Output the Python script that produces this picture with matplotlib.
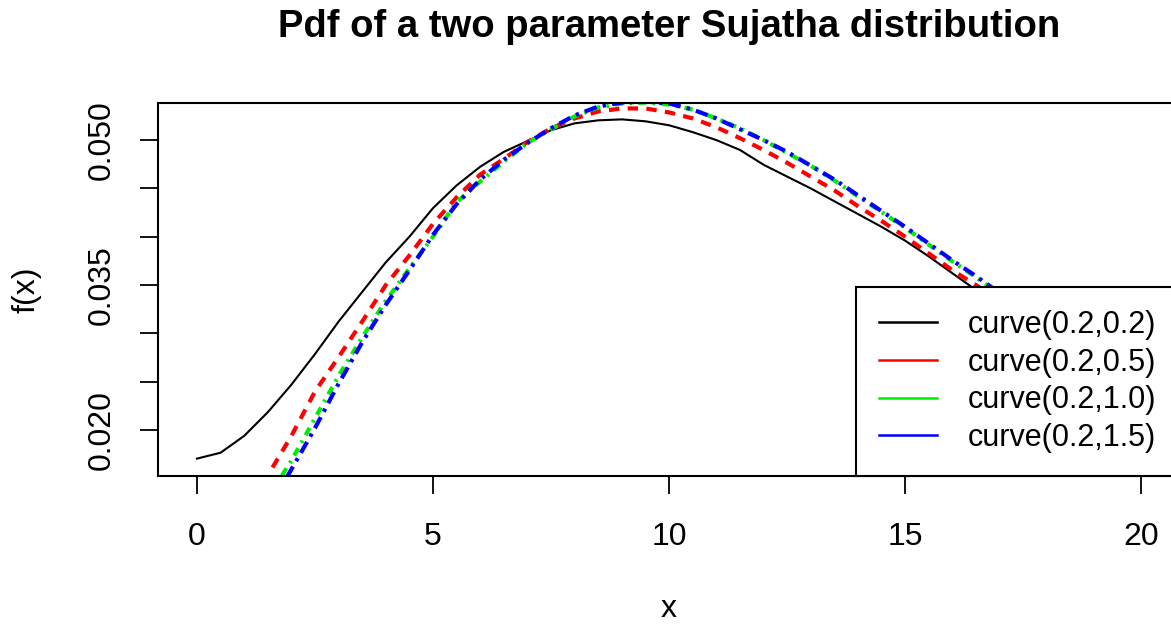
import numpy as np
import matplotlib.pyplot as plt
from matplotlib.lines import Line2D

plt.rcParams['font.family'] = ['Liberation Sans', 'DejaVu Sans']

# values
x_black = [0, 0.5, 1, 1.5, 2, 2.5, 3, 3.5, 4, 4.5, 5, 5.5, 6, 6.5, 7, 7.5, 8, 8.5,
           9, 9.5, 10, 10.5, 11, 11.5, 12, 12.5, 13, 13.5, 14, 14.5, 15, 15.5, 16, 16.5, 17]
y_black = [0.01704, 0.01765, 0.01939, 0.02184, 0.02469, 0.02786, 0.03122, 0.03429,
           0.03735, 0.04000, 0.04296, 0.04531, 0.04724, 0.04878, 0.04990, 0.05102,
           0.05173, 0.05204, 0.05214, 0.05194, 0.05153, 0.05082, 0.05000, 0.04898,
           0.04745, 0.04622, 0.04500, 0.04367, 0.04235, 0.04102, 0.03959, 0.03796,
           0.03622, 0.03449, 0.03280]

x_red = [1.6, 2, 2.5, 3, 3.5, 4, 4.5, 5, 5.5, 6, 6.5, 7, 7.5, 8, 8.5, 9, 9.5, 10,
         10.5, 11, 11.5, 12, 12.5, 13, 13.5, 14, 14.5, 15, 15.5, 16, 16.5, 17]
y_red = [0.01612, 0.01939, 0.02398, 0.02755, 0.03122, 0.03500, 0.03806, 0.04133,
         0.04408, 0.04643, 0.04806, 0.04980, 0.05122, 0.05224, 0.05296, 0.05327,
         0.05327, 0.05286, 0.05224, 0.05133, 0.05020, 0.04898, 0.04765, 0.04622,
         0.04480, 0.04316, 0.04163, 0.04000, 0.03827, 0.03653, 0.03500, 0.03340]

x_green = [1.8, 2, 2.5, 3, 3.5, 4, 4.5, 5, 5.5, 6, 6.5, 7, 7.5, 8, 8.5, 9, 9.5, 10,
           10.5, 11, 11.5, 12, 12.5, 13, 13.5, 14, 14.5, 15, 15.5, 16, 16.5, 17]
y_green = [0.01531, 0.01684, 0.02122, 0.02561, 0.02959, 0.03337, 0.03673, 0.04000,
           0.04357, 0.04571, 0.04776, 0.04969, 0.05112, 0.05245, 0.05337, 0.05378,
           0.05388, 0.05367, 0.05316, 0.05224, 0.05122, 0.05000, 0.04867, 0.04735,
           0.04582, 0.04418, 0.04255, 0.04092, 0.03918, 0.03745, 0.03582, 0.03408]

x_blue = [1.9, 2, 2.5, 3, 3.5, 4, 4.5, 5, 5.5, 6, 6.5, 7, 7.5, 8, 8.5, 9, 9.5, 10,
          10.5, 11, 11.5, 12, 12.5, 13, 13.5, 14, 14.5, 15, 15.5, 16, 16.5, 17]
y_blue = [0.01510, 0.01592, 0.02020, 0.02480, 0.02908, 0.03296, 0.03653, 0.04020,
          0.04337, 0.04592, 0.04796, 0.04969, 0.05122, 0.05255, 0.05347, 0.05388,
          0.05398, 0.05378, 0.05316, 0.05224, 0.05112, 0.05000, 0.04878, 0.04735,
          0.04592, 0.04429, 0.04265, 0.04102, 0.03929, 0.03755, 0.03592, 0.03418]

labels = ["curve(0.2,0.2)", "curve(0.2,0.5)", "curve(0.2,1.0)", "curve(0.2,1.5)"]
colors = ["black", "red", "#00ee00", "blue"]
xticks = [0, 5, 10, 15, 20]
yticks = [0.020, 0.025, 0.030, 0.035, 0.040, 0.045, 0.050]
ytick_labels = ["0.020", "", "", "0.035", "", "", "0.050"]

fig = plt.figure(figsize=(11.71, 6.26), dpi=100)
ax = fig.add_axes([0.1349, 0.2396, 0.8719, 0.5958])

ax.plot(x_black, y_black, color=colors[0], lw=1.5)
ax.plot(x_red, y_red, color=colors[1], lw=3, ls=(0, (2.5, 2)))
ax.plot(x_green, y_green, color=colors[2], lw=3, ls=(0, (2, 1.5, 0.6, 1.5)))
ax.plot(x_blue, y_blue, color=colors[3], lw=3, ls=(0, (3, 1.5, 0.8, 1.5)))

ax.set_xlim(-0.826, 20.8)
ax.set_ylim(0.01524, 0.05383)
ax.set_xticks(xticks)
ax.set_yticks(yticks)
ax.set_yticklabels(ytick_labels, rotation=90, va='center')
ax.tick_params(direction='out', length=13, width=1.3, labelsize=23, pad=20)
ax.tick_params(axis='y', pad=17)
for s in ax.spines.values():
    s.set_linewidth(1.5)

ax.set_xlabel("x", fontsize=23, labelpad=30)
ax.set_ylabel("f(x)", fontsize=23, labelpad=32)
fig.suptitle("Pdf of a two parameter Sujatha distribution", x=0.571, y=0.985,
             fontsize=27.5, fontweight='bold')

handles = [Line2D([0], [0], color=c, lw=1.8) for c in colors]
leg = ax.legend(handles, labels, loc='lower right', bbox_to_anchor=(1, 0),
                fontsize=22, frameon=True, fancybox=False, edgecolor='black',
                framealpha=1, borderaxespad=0, borderpad=0.75, labelspacing=0.25,
                handlelength=1.9, handletextpad=1.0)
leg.get_frame().set_linewidth(1.5)

fig.savefig("out.png", dpi=100)
